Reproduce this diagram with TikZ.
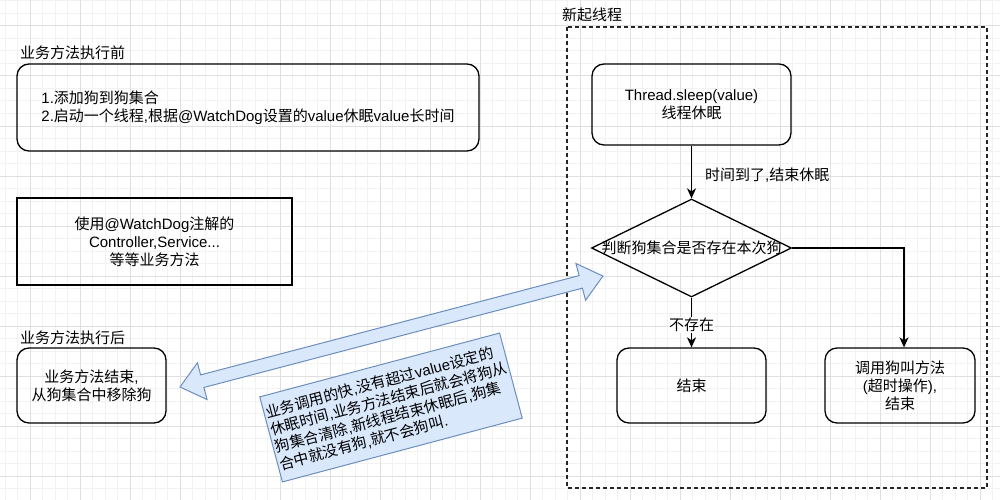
\documentclass[tikz,border=0pt]{standalone}
\usepackage{fontspec}
\setmainfont{Liberation Sans}
\newfontfamily\cjkfont{Noto Sans CJK SC}
\usetikzlibrary{arrows.meta, shapes.geometric}

% ideographs are set in the CJK family
\newXeTeXintercharclass\hanclass
\count255="4E00
\loop
  \XeTeXcharclass\count255=\hanclass
  \advance\count255 by 1
\ifnum\count255<"A000 \repeat
\XeTeXinterchartoks 0 \hanclass = {\cjkfont}
\XeTeXinterchartoks 4095 \hanclass = {\cjkfont}
\XeTeXinterchartoks \hanclass 0 = {\rmfamily}
\XeTeXinterchartoks \hanclass 4095 = {\rmfamily}
\XeTeXinterchartokenstate=1

\definecolor{gridminor}{HTML}{F2F2F2}
\definecolor{gridmajor}{HTML}{DFDFDF}
\definecolor{noteblue}{HTML}{DAE8FC}
\definecolor{noteedge}{HTML}{6C8EBF}

\tikzset{
  txt/.style={inner sep=0pt, anchor=west},
  roundbox/.style={draw, line width=1.3pt, rounded corners=12pt, align=center},
  plainbox/.style={draw, line width=1.3pt, align=center},
  decision/.style={draw, diamond, line width=1.3pt, minimum width=200pt, minimum height=98pt, inner sep=0pt},
  flow/.style={-{Stealth[length=10pt, width=9pt, inset=3pt]}, line width=1.3pt},
  threadframe/.style={draw=black!85, line width=1.3pt, dash pattern=on 4pt off 3pt},
  flexarrow/.style={draw=noteedge, fill=noteblue, line width=1pt, line join=miter},
  notebox/.style={draw=noteedge, fill=noteblue, line width=1pt, inner sep=2pt, align=left}
}

\begin{document}
\begin{tikzpicture}[x=1pt, y=-1pt, every node/.style={font=\fontsize{15}{18}\selectfont}]
    % Canvas
    \fill[white] (0,0) rectangle (1000,500);
    \useasboundingbox (0,0) rectangle (1000,500);
    \foreach \gx in {0,...,79}
        \draw[gridminor, line width=1pt] ({5+12.5*\gx},0) -- ({5+12.5*\gx},500);
    \foreach \gy in {0,...,39}
        \draw[gridminor, line width=1pt] (0,{1+12.5*\gy}) -- (1000,{1+12.5*\gy});
    \foreach \gx in {30,80,...,980}
        \draw[gridmajor, line width=1pt] (\gx,0) -- (\gx,500);
    \foreach \gy in {26,76,...,476}
        \draw[gridmajor, line width=1pt] (0,\gy) -- (1000,\gy);

    % Business method side
    \node[txt] (lblBefore) at (20,53) {业务方法执行前};
    \node[roundbox, minimum width=462pt, minimum height=87pt, align=left] (addDog) at (248,107.5)
        {1.添加狗到狗集合\\2.启动一个线程,根据@WatchDog设置的value休眠value长时间};
    \node[plainbox, minimum width=275pt, minimum height=87pt] (bizMethod) at (154.5,241.5)
        {使用@WatchDog注解的\\Controller,Service...\\等等业务方法};
    \node[txt] (lblAfter) at (20,337.5) {业务方法执行后};
    \node[roundbox, minimum width=149pt, minimum height=75pt] (removeDog) at (91.5,385.5)
        {业务方法结束,\\从狗集合中移除狗};

    % Watch thread
    \draw[threadframe] (567,27) rectangle (987,488);
    \node[txt] (lblThread) at (562,15) {新起线程};
    \node[roundbox, minimum width=199pt, minimum height=81pt] (sleep) at (691.5,104.5)
        {Thread.sleep(value)\\线程休眠};
    \node[decision, label={center:判断狗集合是否存在本次狗}] (check) at (691.5,248) {};
    \node[roundbox, minimum width=149pt, minimum height=75pt] (finish) at (691.5,385.5) {结束};
    \node[roundbox, minimum width=150pt, minimum height=75pt] (bark) at (900,385.5)
        {调用狗叫方法\\(超时操作),\\结束};

    % Flow
    \draw[flow] (sleep) -- node[txt, xshift=13pt, yshift=-3pt] (lblTimeUp) {时间到了,结束休眠} (check);
    \draw[flow] (check.south) -- node[pos=0.55, fill=white, inner sep=1pt] (lblAbsent) {不存在} (finish.north);
    \draw[flow] (check.east) -| ([xshift=4pt]bark.north);

    % Double arrow and note
    \coordinate (flexL) at (180,387);
    \coordinate (flexR) at (603,276);
    \begin{scope}[shift={(flexL)}, rotate=14.7]
        \draw[flexarrow] (0,0) -- (23,-19) -- (23,-6.5) -- (414.3,-6.5) -- (414.3,-19) -- (437.3,0)
            -- (414.3,19) -- (414.3,6.5) -- (23,6.5) -- (23,19) -- cycle;
    \end{scope}
    \node[notebox, rotate=14.9, minimum width=248pt, minimum height=88pt] (note) at (391,407.5)
        {业务调用的快,没有超过value设定的\\休眠时间,业务方法结束后就会将狗从\\狗集合清除,新线程结束休眠后,狗集\\合中就没有狗,就不会狗叫.};
\end{tikzpicture}
\end{document}
